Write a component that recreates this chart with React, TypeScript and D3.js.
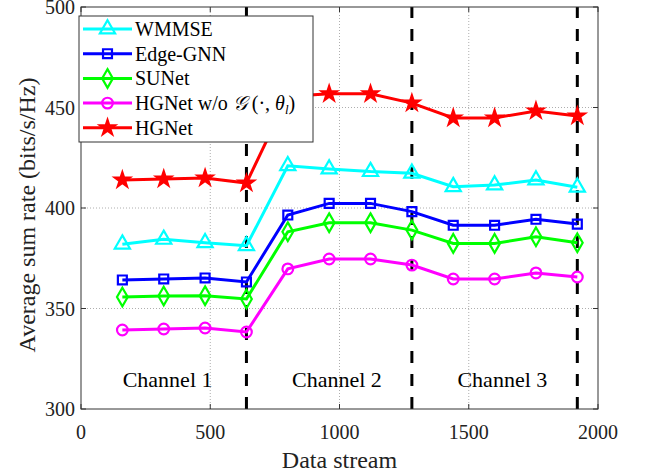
import React from "react";
import * as d3 from "d3";

const streams = [160, 320, 480, 640, 800, 960, 1120, 1280, 1440, 1600, 1760, 1920];
const wmmse = [382, 384.4, 382.7, 381.2, 421, 419.4, 418.1, 417.3, 410.6, 411.4, 413.9, 410.3];
const edgeGnn = [364.2, 364.7, 365.2, 363.2, 396.5, 402.3, 402.3, 398.2, 391.4, 391.4, 394.4, 392];
const suNet = [355.7, 356.2, 356.4, 354.7, 388.2, 392.7, 392.7, 389, 382.4, 382.4, 385.7, 382.7];
const hgNetWo = [339.3, 339.8, 340.3, 338.3, 369.7, 374.6, 374.6, 371.6, 364.7, 364.7, 367.7, 365.7];
const hgNet = [413.9, 414.4, 414.9, 412.4, 455.5, 456.8, 456.8, 452.2, 444.8, 444.8, 448.3, 445.8];
const channelBounds = [640, 1280, 1920];
const channelNames = ["Channel 1", "Channel 2", "Channel 3"];
const channelLabelX = [335, 990, 1630];
const xTicks = [0, 500, 1000, 1500, 2000];
const yTicks = [300, 350, 400, 450, 500];

const W = 646;
const H = 476;
const margin = { top: 7, right: 48, bottom: 67, left: 81 };
const font = "'Liberation Serif', 'Times New Roman', serif";

const series = [
  { name: "WMMSE", data: wmmse, color: "#00ffff", marker: d3.symbolTriangle, size: 100 },
  { name: "Edge-GNN", data: edgeGnn, color: "#0000ff", marker: d3.symbolSquare, size: 80 },
  { name: "SUNet", data: suNet, color: "#00ff00", marker: d3.symbolDiamond, size: 100 },
  { name: "HGNetWo", data: hgNetWo, color: "#ff00ff", marker: d3.symbolCircle, size: 90 },
  { name: "HGNet", data: hgNet, color: "#ff0000", marker: d3.symbolStar, size: 90 },
];

function Marker(props: any) {
  const { s, x, y } = props;
  const d = d3.symbol().type(s.marker).size(s.size)() as string;
  const filled = s.name === "HGNet";
  return (
    <path
      d={d}
      transform={`translate(${x},${y})`}
      fill={filled ? s.color : "none"}
      stroke={s.color}
      strokeWidth={filled ? 1.5 : 2.2}
      strokeLinejoin="miter"
    />
  );
}

function LegendLabel(props: any) {
  if (props.name !== "HGNetWo") {
    return <>{props.name}</>;
  }
  return (
    <>
      {"HGNet w/o "}
      <tspan fontFamily="'DejaVu Serif', serif" fontStyle="italic">𝒢</tspan>
      {" (·, "}
      <tspan fontStyle="italic">θ</tspan>
      <tspan fontStyle="italic" fontSize={13} dy={4}>l</tspan>
      <tspan dy={-4}>)</tspan>
    </>
  );
}

export default function App() {
  const innerW = W - margin.left - margin.right;
  const innerH = H - margin.top - margin.bottom;

  const x = d3.scaleLinear().domain([0, 2000]).range([margin.left, margin.left + innerW]);
  const y = d3.scaleLinear().domain([300, 500]).range([margin.top + innerH, margin.top]);

  const line = (vals: number[]) =>
    d3
      .line<number>()
      .x((_, i) => x(streams[i]))
      .y((v) => y(v))(vals) as string;

  const x0 = x(0);
  const x1 = x(2000);
  const y0 = y(300);
  const y1 = y(500);

  return (
    <svg
      width={W}
      height={H}
      style={{ position: "absolute", left: 0, top: 0, background: "#fff" }}
      fontFamily={font}
    >
      {/* grid */}
      {xTicks.slice(1, -1).map((t) => (
        <line key={"gx" + t} x1={x(t)} x2={x(t)} y1={y0} y2={y1} stroke="#999" strokeWidth={0.8} strokeDasharray="1,2" />
      ))}
      {yTicks.slice(1, -1).map((t) => (
        <line key={"gy" + t} x1={x0} x2={x1} y1={y(t)} y2={y(t)} stroke="#999" strokeWidth={0.8} strokeDasharray="1,2" />
      ))}

      {/* ticks */}
      {xTicks.map((t) => (
        <g key={"tx" + t}>
          <line x1={x(t)} x2={x(t)} y1={y0} y2={y0 - 5} stroke="#333" />
          <line x1={x(t)} x2={x(t)} y1={y1} y2={y1 + 5} stroke="#333" />
          <text x={x(t)} y={y0 + 30} textAnchor="middle" fontSize={20} fill="#222">{t}</text>
        </g>
      ))}
      {yTicks.map((t) => (
        <g key={"ty" + t}>
          <line x1={x0} x2={x0 + 5} y1={y(t)} y2={y(t)} stroke="#333" />
          <line x1={x1} x2={x1 - 5} y1={y(t)} y2={y(t)} stroke="#333" />
          <text x={x0 - 6} y={y(t) + 7} textAnchor="end" fontSize={20} fill="#222">{t}</text>
        </g>
      ))}

      {/* channel separators */}
      {channelBounds.map((b) => (
        <line key={"cb" + b} x1={x(b)} x2={x(b)} y1={y0} y2={y1} stroke="#000" strokeWidth={3} strokeDasharray="12,11" />
      ))}
      {channelNames.map((n, i) => (
        <text key={n} x={x(channelLabelX[i])} y={387} textAnchor="middle" fontSize={22} fill="#000">{n}</text>
      ))}

      {/* series */}
      {series.map((s) => (
        <g key={s.name}>
          <path d={line(s.data)} fill="none" stroke={s.color} strokeWidth={3} />
          {s.data.map((v, i) => (
            <Marker key={i} s={s} x={x(streams[i])} y={y(v)} />
          ))}
        </g>
      ))}

      {/* axes box */}
      <rect x={x0} y={y1} width={x1 - x0} height={y0 - y1} fill="none" stroke="#333" strokeWidth={1} />

      {/* legend */}
      <g>
        <rect x={79} y={16} width={234} height={126} fill="#fff" stroke="#333" strokeWidth={1} />
        {series.map((s, i) => {
          const ly = 29 + i * 24.7;
          return (
            <g key={"lg" + s.name}>
              <line x1={83} x2={132} y1={ly} y2={ly} stroke={s.color} strokeWidth={3} />
              <Marker s={s} x={107.5} y={ly} />
              <text x={135} y={ly + 7} fontSize={20} fill="#000">
                <LegendLabel name={s.name} />
              </text>
            </g>
          );
        })}
      </g>

      {/* axis labels */}
      <text x={(x0 + x1) / 2} y={468} textAnchor="middle" fontSize={24} fill="#222">Data stream</text>
      <text
        transform={`translate(35,215) rotate(-90)`}
        textAnchor="middle"
        fontSize={24}
        fill="#222"
      >
        Average sum rate (bits/s/Hz)
      </text>
    </svg>
  );
}
